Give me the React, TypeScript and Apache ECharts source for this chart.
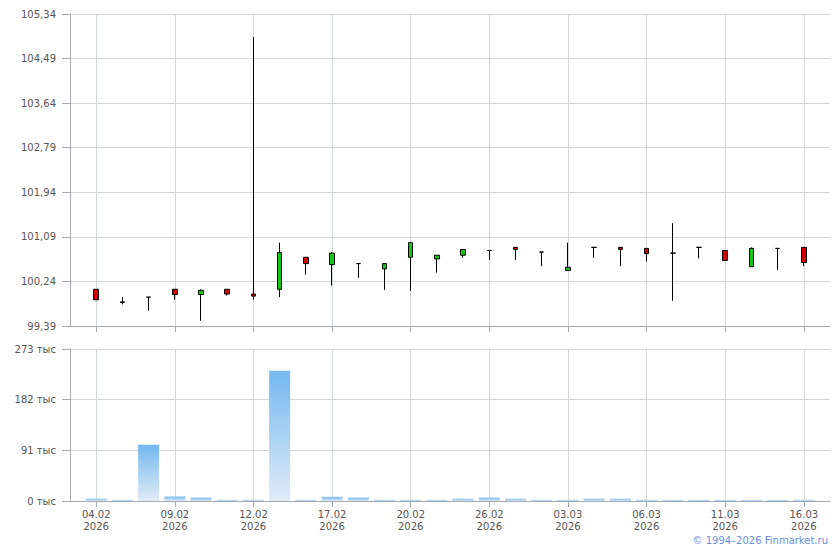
import React, { useEffect, useRef } from "react";
import * as echarts from "echarts";

const dates = [
  "04.02", "05.02", "06.02", "09.02", "10.02", "11.02", "12.02", "13.02", "16.02", "17.02",
  "18.02", "19.02", "20.02", "24.02", "25.02", "26.02", "27.02", "02.03", "03.03", "04.03",
  "05.03", "06.03", "09.03", "10.03", "11.03", "12.03", "13.03", "16.03",
];
const opens = [
  100.09, 99.85, 99.94, 100.09, 99.99, 100.09, 100.0, 100.09, 100.7, 100.56,
  100.58, 100.48, 100.7, 100.67, 100.74, 100.83, 100.89, 100.8, 100.45, 100.89,
  100.89, 100.87, 100.78, 100.89, 100.83, 100.52, 100.87, 100.89,
];
const closes = [
  99.89, 99.84, 99.94, 99.99, 100.07, 100.0, 99.96, 100.79, 100.58, 100.78,
  100.58, 100.58, 100.98, 100.74, 100.85, 100.83, 100.85, 100.8, 100.51, 100.89,
  100.85, 100.77, 100.78, 100.89, 100.64, 100.87, 100.87, 100.6,
];
const lows = [
  99.89, 99.8, 99.68, 99.89, 99.49, 99.97, 99.89, 99.94, 100.37, 100.16,
  100.31, 100.08, 100.06, 100.41, 100.69, 100.65, 100.65, 100.53, 100.45, 100.69,
  100.53, 100.62, 99.87, 100.68, 100.64, 100.52, 100.46, 100.53,
];
const highs = [
  100.09, 99.94, 99.94, 100.09, 100.09, 100.09, 104.9, 100.98, 100.7, 100.8,
  100.58, 100.58, 100.98, 100.74, 100.85, 100.84, 100.89, 100.8, 100.98, 100.89,
  100.89, 100.87, 101.35, 100.89, 100.83, 100.89, 100.87, 100.89,
];
const volumes = [
  4, 2, 101, 8, 6, 2, 2, 234, 2, 7.5,
  6, 2, 2, 2, 4, 6, 4, 2, 2, 4,
  4, 2, 1.5, 1.5, 1.5, 1.5, 1.5, 2,
];
const priceMin = 99.39;
const priceStep = 0.85;
const priceSteps = 7;
const volumeStep = 91;
const volumeSteps = 3;
const year = "2026";

const AXIS = "#a5a9b1";
const GRID = "#d3d7dc";
const LABEL = "#555555";
const FONT = "DejaVu Sans";

export default function App() {
  const ref = useRef<HTMLDivElement>(null);
  useEffect(() => {
    if (!ref.current) return;
    const chart = echarts.init(ref.current, undefined, { renderer: "svg" });
    const cats = ["", ...dates, ""];
    const showIdx = (i: number) => i >= 1 && i <= dates.length && (i - 1) % 3 === 0;
    const candle = [
      "-",
      ...dates.map((_, i) => [
        opens[i] - priceMin,
        closes[i] - priceMin,
        lows[i] - priceMin,
        highs[i] - priceMin,
      ]),
      "-",
    ];
    const vols = ["-", ...volumes, "-"];
    const xBase = (gridIndex: number, labels: boolean) => ({
      type: "category",
      gridIndex,
      data: cats,
      boundaryGap: false,
      axisLine: { lineStyle: { color: AXIS, width: 1 } },
      axisTick: { show: true, interval: showIdx, length: 6, lineStyle: { color: AXIS } },
      splitLine: { show: true, interval: showIdx, lineStyle: { color: GRID, width: 1 } },
      axisLabel: {
        show: labels,
        interval: showIdx,
        color: LABEL,
        fontFamily: FONT,
        fontSize: 10,
        lineHeight: 12,
        margin: 7,
        formatter: (v: string) => (v ? v + "\n" + year : ""),
      },
    });
    chart.setOption({
      animation: false,
      grid: [
        { left: 70, right: 10, top: 14, height: 312 },
        { left: 70, right: 10, top: 349, height: 152 },
      ],
      xAxis: [xBase(0, false), xBase(1, true)],
      yAxis: [
        {
          type: "value",
          gridIndex: 0,
          min: 0,
          max: priceStep * priceSteps,
          interval: priceStep,
          axisLine: { show: true, lineStyle: { color: AXIS } },
          axisTick: { show: true, length: 8, lineStyle: { color: AXIS } },
          splitLine: { lineStyle: { color: GRID } },
          axisLabel: {
            color: LABEL,
            fontFamily: FONT,
            fontSize: 10,
            margin: 14,
            formatter: (v: number) => (v + priceMin).toFixed(2).replace(".", ","),
          },
        },
        {
          type: "value",
          gridIndex: 1,
          min: 0,
          max: volumeStep * volumeSteps,
          interval: volumeStep,
          axisLine: { show: true, lineStyle: { color: AXIS } },
          axisTick: { show: true, length: 8, lineStyle: { color: AXIS } },
          splitLine: { lineStyle: { color: GRID } },
          axisLabel: {
            color: LABEL,
            fontFamily: FONT,
            fontSize: 10,
            margin: 14,
            formatter: (v: number) => Math.round(v) + " тыс",
          },
        },
      ],
      series: [
        {
          type: "candlestick",
          xAxisIndex: 0,
          yAxisIndex: 0,
          data: candle,
          barWidth: 5,
          itemStyle: {
            color: "#14c814",
            color0: "#d40000",
            borderColor: "#000000",
            borderColor0: "#000000",
            borderWidth: 1,
          },
        },
        {
          type: "bar",
          xAxisIndex: 1,
          yAxisIndex: 1,
          data: vols,
          barWidth: 21,
          barMinHeight: 1,
          itemStyle: {
            color: new echarts.graphic.LinearGradient(0, 0, 0, 1, [
              { offset: 0, color: "#74b8ef" },
              { offset: 1, color: "#e0ebf7" },
            ]),
          },
        },
      ],
      graphic: [
        {
          type: "text",
          right: 12,
          top: 535,
          style: {
            text: "© 1994–2026 Finmarket.ru",
            fill: "#6b8fdc",
            font: "10px 'DejaVu Sans'",
          },
        },
      ],
    });
    return () => chart.dispose();
  }, []);
  return (
    <div
      ref={ref}
      style={{ position: "fixed", left: 0, top: 0, width: 840, height: 550, background: "#fff" }}
    />
  );
}
